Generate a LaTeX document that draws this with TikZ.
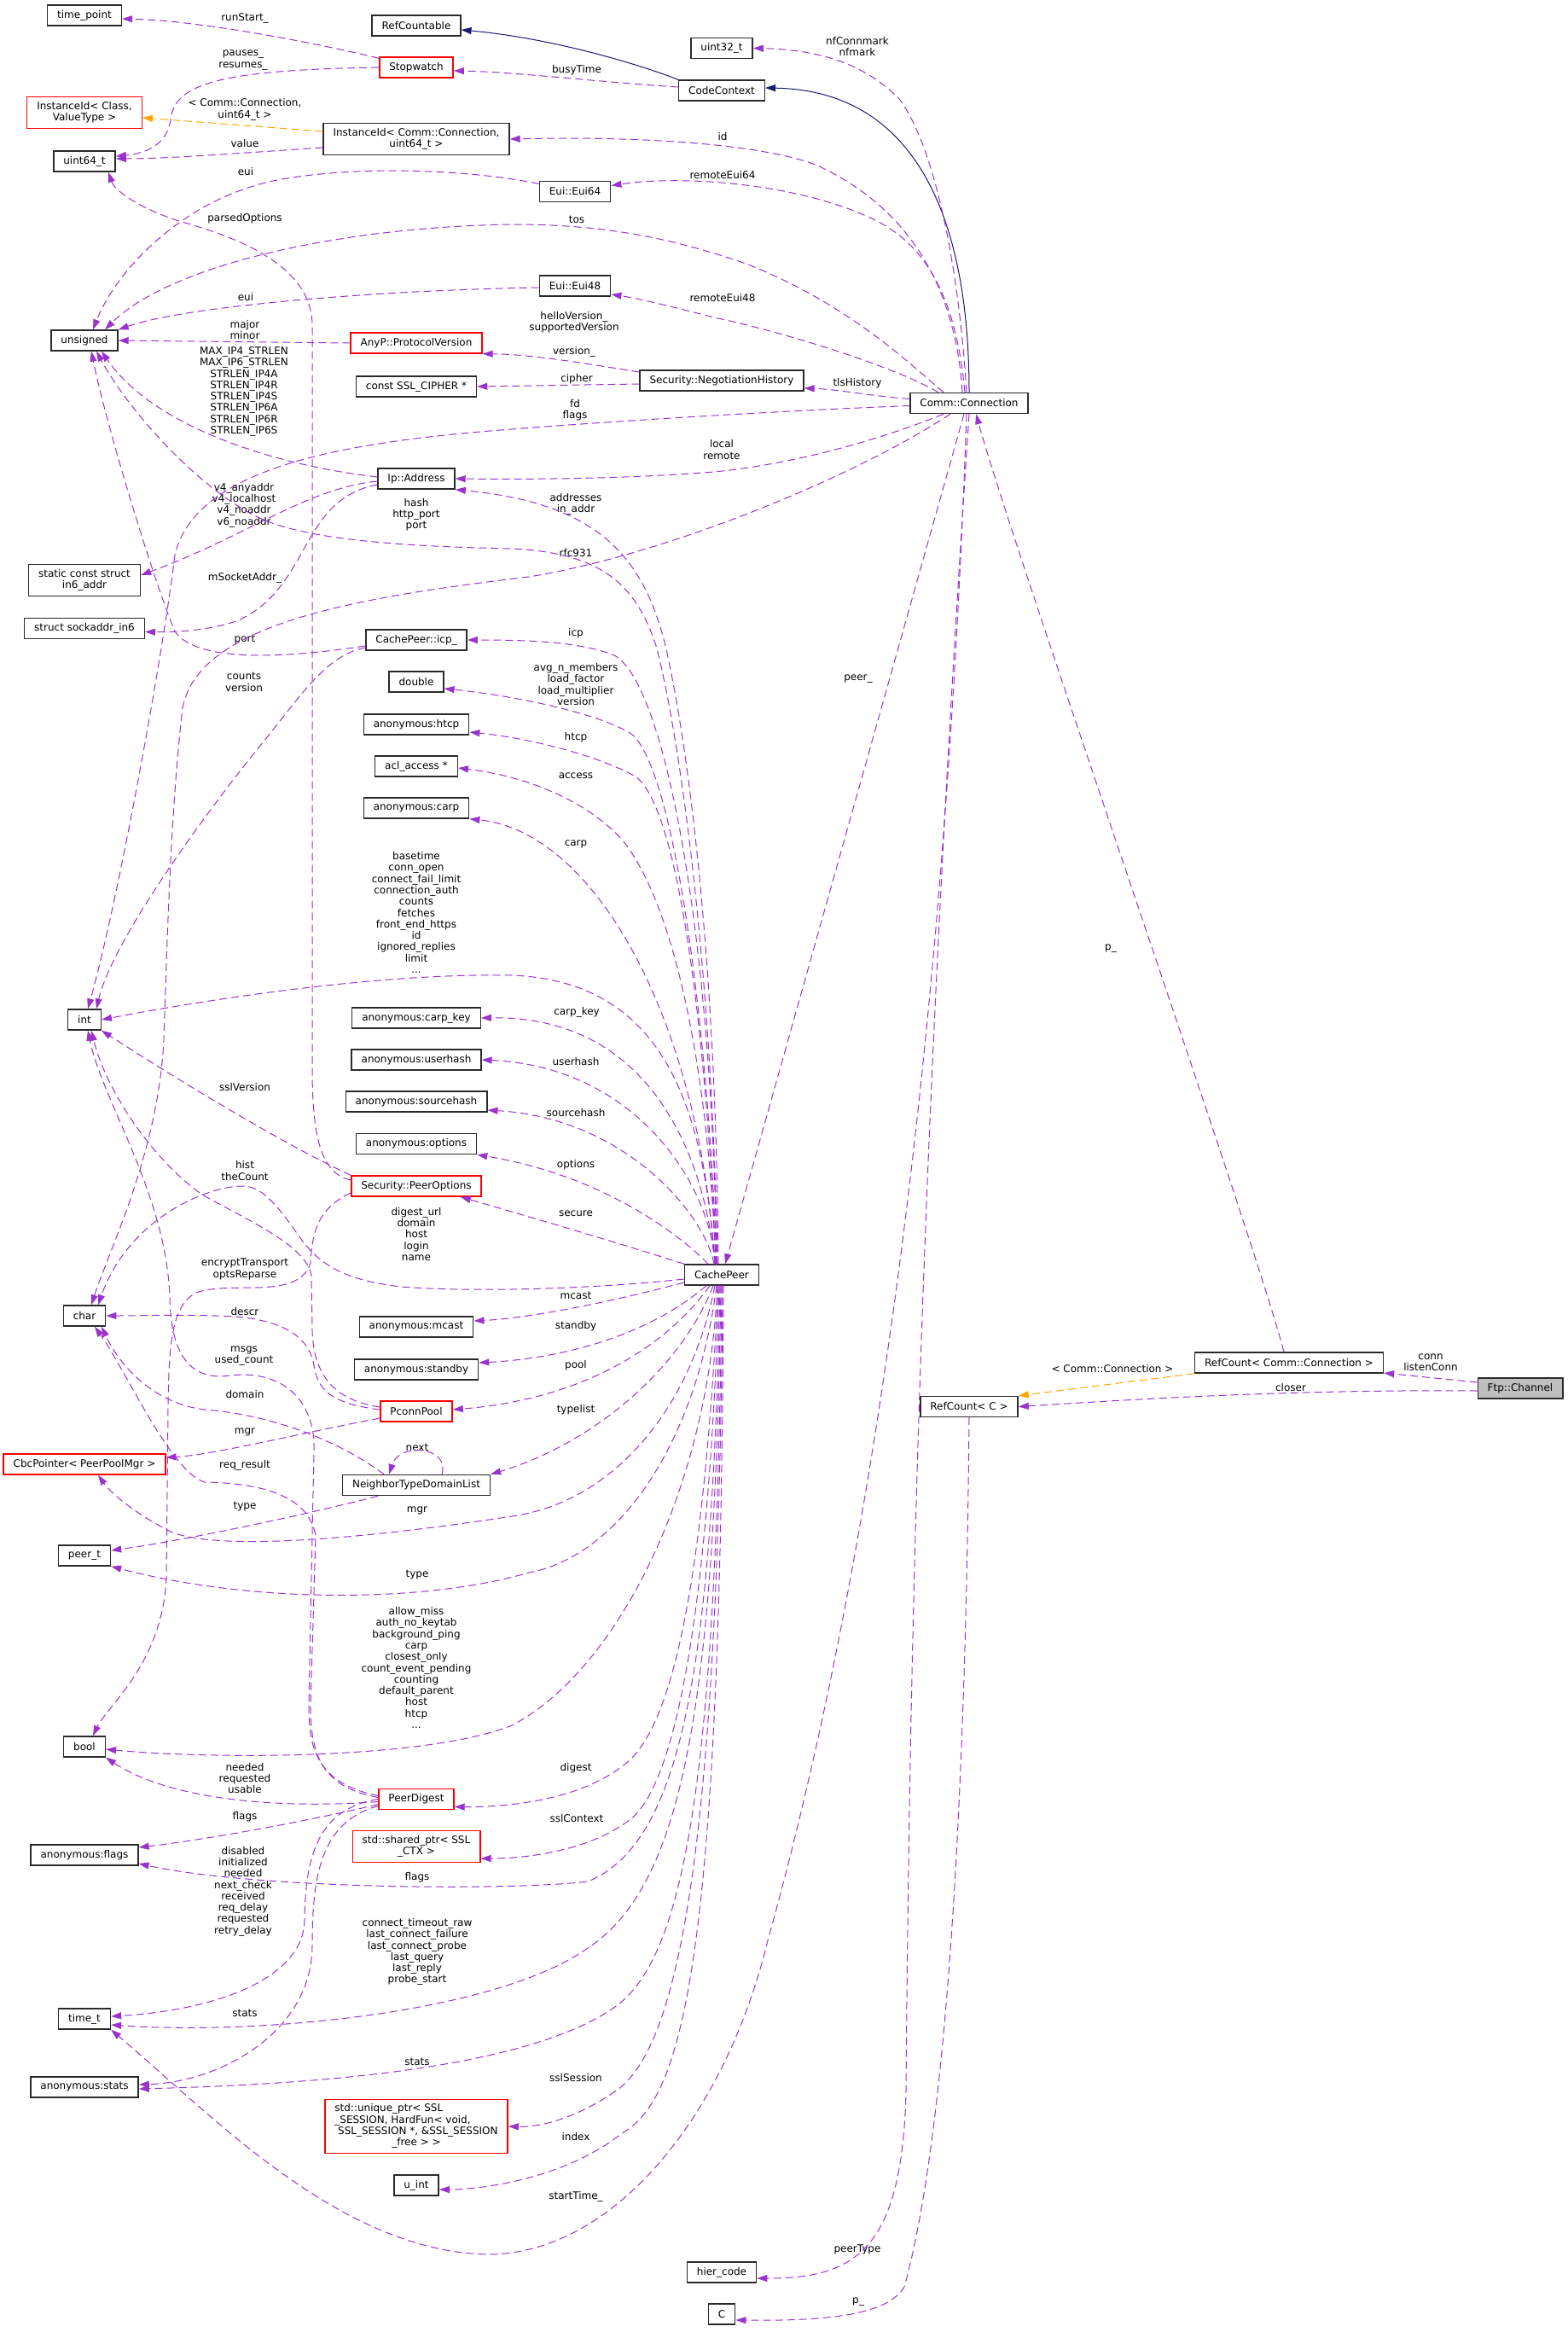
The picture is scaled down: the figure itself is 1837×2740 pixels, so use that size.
\documentclass[tikz,border=0pt]{standalone}
\usepackage{fontspec}
\setmainfont{DejaVu Sans}
\usetikzlibrary{arrows.meta}
\definecolor{usec}{HTML}{9A32CD}
\definecolor{tplc}{HTML}{FFA500}
\definecolor{inhc}{HTML}{191970}
\definecolor{boxk}{HTML}{2A2A2A}
\definecolor{boxr}{HTML}{FF0000}
\definecolor{mainc}{HTML}{BFBFBF}
\newcommand{\dxfont}{\fontsize{12}{13.3}\selectfont}
\newcommand{\klass}[5][]{%
  \node[box, draw=#4, #1] (#2) at #3 {#5};
}
\tikzset{
  box/.style={rectangle, line width=1.4pt, fill=white, inner xsep=11.5pt,
              inner ysep=3pt, minimum height=24pt, align=center},
  lbl/.style={inner sep=1pt, align=center},
  member/.style={usec, line width=1pt, dash pattern=on 9pt off 5pt,
                 -{Triangle[length=12pt,width=8pt]}},
  tmpl/.style={tplc, line width=1pt, dash pattern=on 9pt off 5pt,
               -{Triangle[length=12pt,width=8pt]}},
  inherit/.style={inhc, line width=1pt, -{Triangle[length=12pt,width=8pt]}},
}

\begin{document}
\begin{tikzpicture}[x=1pt, y=-1pt, font=\dxfont]
    \path[use as bounding box, fill=white] (0,0) rectangle (1837,2740);
    % left column
    \klass{timepoint}{(99,18)}{boxk}{time\_point}
    \klass[minimum height=37pt]{instCls}{(99,132)}{boxr}{InstanceId< Class,\\ValueType >}
    \klass{uintsf}{(99,189)}{boxk}{uint64\_t}
    \klass{unsgn}{(99,399)}{boxk}{unsigned}
    \klass[minimum height=37pt]{inaddr}{(99,680)}{boxk}{static const struct\\in6\_addr}
    \klass{sockin}{(99,736.5)}{boxk}{struct sockaddr\_in6}
    \klass{int}{(99,1195)}{boxk}{int}
    \klass{char}{(99,1542)}{boxk}{char}
    \klass{cbc}{(99,1716)}{boxr}{CbcPointer< PeerPoolMgr >}
    \klass{peert}{(99,1823)}{boxk}{peer\_t}
    \klass{bool}{(99,2047)}{boxk}{bool}
    \klass{aflags}{(99,2174)}{boxk}{anonymous:flags}
    \klass{timet}{(99,2366)}{boxk}{time\_t}
    \klass{astats}{(99,2446)}{boxk}{anonymous:stats}
    % second column
    \klass{refCountable}{(488,30)}{boxk}{RefCountable}
    \klass{stopwatch}{(488,79)}{boxr}{Stopwatch}
    \klass[minimum height=37pt]{instConn}{(488,163)}{boxk}{InstanceId< Comm::Connection,\\uint64\_t >}
    \klass{protoVer}{(488,402)}{boxr}{AnyP::ProtocolVersion}
    \klass{sslCipher}{(488,453)}{boxk}{const SSL\_CIPHER *}
    \klass{ipAddr}{(488,561)}{boxk}{Ip::Address}
    \klass{icp}{(488,750)}{boxk}{CachePeer::icp\_}
    \klass{double}{(488,799)}{boxk}{double}
    \klass{anonHtcp}{(488,849)}{boxk}{anonymous:htcp}
    \klass{aclAccess}{(488,898)}{boxk}{acl\_access *}
    \klass{anonCarp}{(488,947)}{boxk}{anonymous:carp}
    \klass{carpKey}{(488,1193)}{boxk}{anonymous:carp\_key}
    \klass{userhash}{(488,1242)}{boxk}{anonymous:userhash}
    \klass{sourcehash}{(488,1291)}{boxk}{anonymous:sourcehash}
    \klass{options}{(488,1340.5)}{boxk}{anonymous:options}
    \klass{peerOpts}{(488,1390)}{boxr}{Security::PeerOptions}
    \klass{mcast}{(488,1555)}{boxk}{anonymous:mcast}
    \klass{standby}{(488,1605)}{boxk}{anonymous:standby}
    \klass{pconn}{(488,1654)}{boxr}{PconnPool}
    \klass{ntdl}{(488,1740.5)}{boxk}{NeighborTypeDomainList}
    \klass{peerDigest}{(488,2108.5)}{boxr}{PeerDigest}
    \klass[minimum height=37pt]{sharedPtr}{(488,2164)}{boxr}{%
      \begin{tabular}{@{}l@{}}std::shared\_ptr< SSL\\\multicolumn{1}{@{}c@{}}{\_CTX >}\end{tabular}}
    \klass[minimum height=63pt]{uniquePtr}{(488,2492)}{boxr}{%
      \begin{tabular}{@{}l@{}}std::unique\_ptr< SSL\\\_SESSION, HardFun< void,\\\ SSL\_SESSION *, \&SSL\_SESSION\\\multicolumn{1}{@{}c@{}}{\_free > >}\end{tabular}}
    \klass{uint}{(488,2561)}{boxk}{u\_int}
    % right side
    \klass{eui64}{(674,224.5)}{boxk}{Eui::Eui64}
    \klass{eui48}{(674,335)}{boxk}{Eui::Eui48}
    \klass{uint32}{(846,56.5)}{boxk}{uint32\_t}
    \klass{codeCtx}{(846,106)}{boxk}{CodeContext}
    \klass{negHist}{(846,446)}{boxk}{Security::NegotiationHistory}
    \klass{cachePeer}{(846,1494)}{boxk}{CachePeer}
    \klass{hier}{(846,2663)}{boxk}{hier\_code}
    \klass{cc}{(846,2712)}{boxk}{C}
    \klass{conn}{(1136,472.5)}{boxk}{Comm::Connection}
    \klass{refC}{(1136,1648.5)}{boxk}{RefCount< C >}
    \klass{refCC}{(1511,1597)}{boxk}{RefCount< Comm::Connection >}
    \klass[fill=mainc]{ftp}{(1782,1627)}{boxk}{Ftp::Channel}

    % edge labels
    \node[lbl] (lRunStart) at (287,21) {runStart\_};
    \node[lbl] (lPauses) at (285,70.5) {pauses\_\\resumes\_};
    \node[lbl] (lInstArg) at (287,128.5) {< Comm::Connection,\\uint64\_t >};
    \node[lbl] (lValue) at (287,168) {value};
    \node[lbl] (lEuiA) at (288,201) {eui};
    \node[lbl] (lParsed) at (287,256) {parsedOptions};
    \node[lbl] (lEuiB) at (288,348) {eui};
    \node[lbl] (lMajor) at (287,386.5) {major\\minor};
    \node[lbl] (lMax) at (286,459) {MAX\_IP4\_STRLEN\\MAX\_IP6\_STRLEN\\STRLEN\_IP4A\\STRLEN\_IP4R\\STRLEN\_IP4S\\STRLEN\_IP6A\\STRLEN\_IP6R\\STRLEN\_IP6S};
    \node[lbl] (lV4) at (286,592) {v4\_anyaddr\\v4\_localhost\\v4\_noaddr\\v6\_noaddr};
    \node[lbl] (lHash) at (488,603) {hash\\http\_port\\port};
    \node[lbl] (lSockAddr) at (287,677) {mSocketAddr\_};
    \node[lbl] (lPort) at (287,750) {port};
    \node[lbl] (lCounts) at (286,799.5) {counts\\version};
    \node[lbl] (lNfmark) at (1005,54.5) {nfConnmark\\nfmark};
    \node[lbl] (lBusy) at (676,82) {busyTime};
    \node[lbl] (lId) at (847,160) {id};
    \node[lbl] (lREui64) at (847,205) {remoteEui64};
    \node[lbl] (lTos) at (676,257) {tos};
    \node[lbl] (lREui48) at (847,349) {remoteEui48};
    \node[lbl] (lHello) at (673,378) {helloVersion\_\\supportedVersion};
    \node[lbl] (lVersion) at (673,412) {version\_};
    \node[lbl] (lCipher) at (676,444) {cipher};
    \node[lbl] (lFd) at (674,480.5) {fd\\flags};
    \node[lbl] (lTls) at (1005,449) {tlsHistory};
    \node[lbl] (lLocal) at (846,527) {local\\remote};
    \node[lbl] (lAddr) at (675,591) {addresses\\in\_addr};
    \node[lbl] (lRfc) at (675,648) {rfc931};
    \node[lbl] (lIcp) at (675,742) {icp};
    \node[lbl] (lAvg) at (675,802) {avg\_n\_members\\load\_factor\\load\_multiplier\\version};
    \node[lbl] (lPeer) at (1006,796) {peer\_};
    \node[lbl] (lHtcp) at (675,864) {htcp};
    \node[lbl] (lAccess) at (675,909) {access};
    \node[lbl] (lCarp) at (675,989) {carp};
    \node[lbl] (lBase) at (488,1069.5) {basetime\\conn\_open\\connect\_fail\_limit\\connection\_auth\\counts\\fetches\\front\_end\_https\\id\\ignored\_replies\\limit\\...};
    \node[lbl] (lCarpKey) at (676,1186) {carp\_key};
    \node[lbl] (lRefP) at (1302,1112) {p\_};
    \node[lbl] (lUserhash) at (675,1244) {userhash};
    \node[lbl] (lSourcehash) at (675,1304) {sourcehash};
    \node[lbl] (lOptions) at (675,1365) {options};
    \node[lbl] (lSslVer) at (287,1274) {sslVersion};
    \node[lbl] (lHist) at (287,1372) {hist\\theCount};
    \node[lbl] (lSecure) at (675,1422) {secure};
    \node[lbl] (lDigestUrl) at (488,1446.5) {digest\_url\\domain\\host\\login\\name};
    \node[lbl] (lEncrypt) at (287,1487.5) {encryptTransport\\optsReparse};
    \node[lbl] (lMcast) at (675,1518) {mcast};
    \node[lbl] (lDescr) at (287,1537) {descr};
    \node[lbl] (lStandby) at (675,1554) {standby};
    \node[lbl] (lMsgs) at (286,1589) {msgs\\used\_count};
    \node[lbl] (lPool) at (675,1600) {pool};
    \node[lbl] (lDomain) at (287,1634) {domain};
    \node[lbl] (lTypelist) at (675,1652) {typelist};
    \node[lbl] (lMgrA) at (287,1678) {mgr};
    \node[lbl] (lNext) at (489,1696) {next};
    \node[lbl] (lReq) at (287,1717) {req\_result};
    \node[lbl] (lTypeA) at (287,1766) {type};
    \node[lbl] (lMgrB) at (489,1770) {mgr};
    \node[lbl] (lTypeB) at (489,1846) {type};
    \node[lbl] (lAllow) at (488,1954.5) {allow\_miss\\auth\_no\_keytab\\background\_ping\\carp\\closest\_only\\count\_event\_pending\\counting\\default\_parent\\host\\htcp\\...};
    \node[lbl] (lNeeded) at (287,2084) {needed\\requested\\usable};
    \node[lbl] (lDigest) at (675,2072) {digest};
    \node[lbl] (lFlagsA) at (287,2129) {flags};
    \node[lbl] (lSslCtx) at (676,2131) {sslContext};
    \node[lbl] (lDisabled) at (285,2216.5) {disabled\\initialized\\needed\\next\_check\\received\\req\_delay\\requested\\retry\_delay};
    \node[lbl] (lFlagsB) at (489,2200) {flags};
    \node[lbl] (lConnTo) at (489,2287.5) {connect\_timeout\_raw\\last\_connect\_failure\\last\_connect\_probe\\last\_query\\last\_reply\\probe\_start};
    \node[lbl] (lStatsA) at (287,2359) {stats};
    \node[lbl] (lStatsB) at (489,2416) {stats};
    \node[lbl] (lSslSess) at (675,2435) {sslSession};
    \node[lbl] (lIndex) at (675,2504) {index};
    \node[lbl] (lStart) at (675,2574) {startTime\_};
    \node[lbl] (lPeerType) at (1005,2636) {peerType};
    \node[lbl] (lCp) at (1006,2698) {p\_};
    \node[lbl] (lRefArg) at (1304,1604) {< Comm::Connection >};
    \node[lbl] (lConn) at (1677,1597) {conn\\listenConn};
    \node[lbl] (lCloser) at (1513,1626) {closer};

    % inheritance and templates
    \draw[inherit] (codeCtx.north west) .. controls (740,72) and (640,44) .. ([yshift=-5pt]refCountable.east);
    \draw[inherit] (conn.north) .. controls (1136,250) and (1070,106) .. ([yshift=3pt]codeCtx.east);
    \draw[tmpl] ([yshift=9pt]instConn.west) -- ([yshift=-6pt]instCls.east);
    \draw[tmpl] (refCC.south west) -- (refC.north east);

    % top area
    \draw[member] ([yshift=-2pt]stopwatch.north west) .. controls (360,48) and (230,24) .. ([yshift=-4pt]timepoint.east);
    \draw[member] (stopwatch.west) .. controls (250,82) and (205,100) .. (200,140) .. controls (196,170) and (170,180) .. ([yshift=6pt]uintsf.east);
    \draw[member] ([yshift=4pt]codeCtx.west) .. controls (700,96) and (600,84) .. ([yshift=-4pt]stopwatch.east);
    \draw[member] ([yshift=-10pt]instConn.west) .. controls (300,178) and (200,186) .. ([yshift=3pt]uintsf.east);
    \draw[member] ([yshift=9pt]eui64.west) .. controls (560,200) and (420,192) .. (320,212) .. controls (210,236) and (135,320) .. ([xshift=10pt]unsgn.north);
    \draw[member] ([yshift=-2pt]eui48.west) .. controls (450,340) and (220,358) .. (unsgn.north east);
    \draw[member] ([xshift=-30pt]conn.north) .. controls (1060,420) and (990,355) .. (877,310) .. controls (780,276) and (700,263) .. (600,263) .. controls (400,266) and (200,310) .. ([xshift=24pt]unsgn.north);
    \draw[member] ([xshift=-36pt]conn.north) .. controls (1040,425) and (900,385) .. (837,372) .. controls (790,360) and (750,350) .. ([yshift=-10pt]eui48.east);
    \draw[member] ([xshift=-8pt]conn.north) .. controls (1120,330) and (1060,240) .. (956,193) .. controls (880,165) and (720,160) .. (instConn.east);
    \draw[member] ([xshift=-5pt]conn.north) .. controls (1120,340) and (1080,280) .. (1015,253) .. controls (930,215) and (800,205) .. ([yshift=7pt]eui64.east);
    \draw[member] ([xshift=-3pt]conn.north) .. controls (1125,330) and (1100,180) .. (1055,117) .. controls (1010,70) and (950,58) .. (uint32.east);
    \draw[member] ([yshift=5pt]conn.west) .. controls (1020,464) and (980,456) .. ([yshift=-9pt]negHist.east);
    \draw[member] ([yshift=10pt]negHist.west) .. controls (680,425) and (620,415) .. (protoVer.south east);
    \draw[member] ([yshift=-4pt]negHist.west) -- (sslCipher.east);
    \draw[member] (protoVer.west) -- (unsgn.east);

    % Comm::Connection
    \draw[member] ([xshift=-30pt]conn.south) .. controls (1020,520) and (920,545) .. (837,553) .. controls (740,561) and (620,562) .. (ipAddr.east);
    \draw[member] ([yshift=-3pt]conn.west) .. controls (900,482) and (700,495) .. (600,503) .. controls (400,518) and (230,548) .. (205,650) .. controls (192,760) and (140,1050) .. ([xshift=4pt]int.north);
    \draw[member] ([xshift=-22pt]conn.south) .. controls (1000,560) and (780,650) .. (620,676) .. controls (420,700) and (232,730) .. (214,830) .. controls (200,950) and (196,1100) .. (192,1220) .. controls (185,1350) and (130,1460) .. ([xshift=8pt]char.north);
    \draw[member] ([xshift=-6pt]conn.south) -- ([xshift=4pt]cachePeer.north);
    \draw[member] ([xshift=-3pt]conn.south) .. controls (1115,1000) and (1060,1700) .. (900,2274) .. controls (850,2480) and (720,2640) .. (574,2642) .. controls (400,2640) and (250,2480) .. (timet.south east);
    \draw[member] (conn.south) .. controls (1075,1400) and (1066,2000) .. (1062,2450) .. controls (1058,2640) and (1000,2670) .. ([yshift=-7pt]hier.east);
    \draw[member] (refC.south) .. controls (1132,2100) and (1110,2500) .. (1060,2680) .. controls (1040,2715) and (960,2720) .. ([yshift=-7pt]cc.east);
    \draw[member] ([xshift=-6pt]refCC.north) .. controls (1470,1450) and (1190,650) .. ([xshift=8pt]conn.south);
    \draw[member] ([yshift=7pt]ftp.west) -- ([yshift=-12pt]refCC.east);
    \draw[member] ([yshift=-3pt]ftp.west) .. controls (1500,1628) and (1300,1642) .. (refC.east);

    % Ip::Address and icp_
    \draw[member] ([yshift=2pt]ipAddr.west) .. controls (320,545) and (180,500) .. ([xshift=20pt]unsgn.south);
    \draw[member] ([yshift=-3pt]ipAddr.west) .. controls (360,572) and (290,628) .. ([yshift=6pt]inaddr.east);
    \draw[member] ([yshift=-7pt]ipAddr.west) .. controls (350,585) and (365,690) .. (277,728) .. controls (240,740) and (200,741) .. ([yshift=-4pt]sockin.east);
    \draw[member] ([yshift=-7pt]icp.west) .. controls (330,772) and (230,776) .. (205,740) .. controls (180,680) and (125,500) .. ([xshift=8pt]unsgn.south);
    \draw[member] ([yshift=-9pt]icp.west) .. controls (380,768) and (350,820) .. (300,880) .. controls (220,980) and (130,1110) .. ([xshift=14pt]int.north);

    % CachePeer, upper fan
    \draw[member] ([xshift=-4pt]cachePeer.north) .. controls (840,1150) and (810,900) .. (785,780) .. controls (760,650) and (700,590) .. (ipAddr.south east);
    \draw[member] ([xshift=-5pt]cachePeer.north) .. controls (835,1150) and (800,880) .. (770,760) .. controls (745,680) and (700,648) .. (600,643) .. controls (450,640) and (350,630) .. (300,605) .. controls (230,570) and (150,480) .. ([xshift=14pt]unsgn.south);
    \draw[member] ([xshift=-6pt]cachePeer.north) .. controls (835,1100) and (780,800) .. (720,768) .. controls (680,752) and (620,750) .. (icp.east);
    \draw[member] ([xshift=-6pt]cachePeer.north) .. controls (830,1200) and (790,900) .. (740,860) .. controls (700,835) and (600,815) .. ([yshift=-8pt]double.east);
    \draw[member] ([xshift=-7pt]cachePeer.north) .. controls (830,1250) and (800,950) .. (745,910) .. controls (700,885) and (620,865) .. ([yshift=-9pt]anonHtcp.east);
    \draw[member] ([xshift=-7pt]cachePeer.north) .. controls (830,1250) and (790,1060) .. (730,985) .. controls (690,940) and (620,910) .. ([yshift=-2pt]aclAccess.east);
    \draw[member] ([xshift=-8pt]cachePeer.north) .. controls (820,1200) and (700,975) .. (anonCarp.south east);
    \draw[member] ([xshift=-8pt]cachePeer.north) .. controls (825,1300) and (780,1150) .. (600,1143) .. controls (450,1140) and (250,1170) .. (int.east);
    \draw[member] ([xshift=-8pt]cachePeer.north) .. controls (825,1350) and (760,1190) .. (carpKey.east);
    \draw[member] ([xshift=-7pt]cachePeer.north) .. controls (830,1380) and (740,1250) .. (userhash.east);
    \draw[member] ([xshift=-9pt]cachePeer.north) .. controls (825,1420) and (730,1310) .. ([yshift=-10pt]sourcehash.east);
    \draw[member] ([xshift=-16pt]cachePeer.north) .. controls (810,1460) and (720,1380) .. (options.south east);
    \draw[member] (cachePeer.north west) .. controls (720,1455) and (600,1420) .. ([xshift=-25pt]peerOpts.south east);
    \draw[member] ([yshift=-5pt]cachePeer.west) .. controls (700,1510) and (560,1515) .. (470,1508) .. controls (400,1500) and (375,1480) .. (355,1455) .. controls (330,1420) and (310,1390) .. (285,1390) .. controls (240,1390) and (150,1430) .. ([xshift=16pt]char.north);

    % CachePeer, lower fan
    \draw[member] ([yshift=-9pt]cachePeer.west) .. controls (720,1525) and (620,1545) .. ([yshift=7pt]mcast.east);
    \draw[member] ([xshift=-18pt]cachePeer.south) .. controls (760,1565) and (660,1592) .. ([yshift=8pt]standby.east);
    \draw[member] ([xshift=-14pt]cachePeer.south) .. controls (780,1580) and (680,1640) .. ([yshift=2pt]pconn.east);
    \draw[member] ([xshift=-10pt]cachePeer.south) .. controls (800,1600) and (700,1690) .. (ntdl.north east);
    \draw[member] ([xshift=-8pt]cachePeer.south) .. controls (810,1650) and (720,1760) .. (600,1777) .. controls (450,1800) and (260,1820) .. (200,1795) .. controls (160,1775) and (130,1750) .. ([xshift=16pt]cbc.south);
    \draw[member] ([xshift=-6pt]cachePeer.south) .. controls (815,1700) and (720,1825) .. (620,1843) .. controls (500,1878) and (300,1880) .. (peert.south east);
    \draw[member] ([xshift=-5pt]cachePeer.south) .. controls (830,1750) and (720,1960) .. (600,2022) .. controls (500,2062) and (250,2062) .. ([yshift=-3pt]bool.east);
    \draw[member] ([xshift=-4pt]cachePeer.south) .. controls (825,1850) and (790,2010) .. (740,2061) .. controls (690,2108) and (600,2118) .. ([yshift=-9pt]peerDigest.east);
    \draw[member] ([xshift=-3pt]cachePeer.south) .. controls (830,1900) and (790,2100) .. (735,2135) .. controls (690,2168) and (620,2178) .. ([yshift=-14pt]sharedPtr.east);
    \draw[member] ([xshift=-2pt]cachePeer.south) .. controls (835,1950) and (800,2160) .. (689,2205) .. controls (600,2216) and (300,2214) .. ([yshift=-10pt]aflags.east);
    \draw[member] ([xshift=-1pt]cachePeer.south) .. controls (838,2000) and (800,2210) .. (689,2283) .. controls (580,2360) and (300,2385) .. ([yshift=-7pt]timet.east);
    \draw[member] (cachePeer.south) .. controls (840,2100) and (800,2300) .. (718,2354) .. controls (620,2420) and (400,2442) .. ([yshift=-2pt]astats.east);
    \draw[member] ([xshift=1pt]cachePeer.south) .. controls (842,2200) and (790,2410) .. (718,2453) .. controls (670,2485) and (630,2493) .. (uniquePtr.east);
    \draw[member] ([xshift=2pt]cachePeer.south) .. controls (845,2300) and (800,2460) .. (729,2500) .. controls (660,2555) and (560,2566) .. ([yshift=-5pt]uint.east);

    % Security::PeerOptions
    \draw[member] (peerOpts.north west) .. controls (330,1340) and (200,1260) .. (int.south east);
    \draw[member] ([yshift=7pt]peerOpts.west) .. controls (375,1375) and (366,1330) .. (366,1250) -- (366,380) .. controls (365,320) and (300,285) .. (220,262) .. controls (170,248) and (135,225) .. ([xshift=28pt]uintsf.south);
    \draw[member] ([yshift=-8pt]peerOpts.west) .. controls (375,1415) and (366,1440) .. (364,1480) .. controls (350,1525) and (270,1500) .. (230,1515) .. controls (200,1530) and (198,1580) .. (197,1650) -- (195,1850) .. controls (190,1950) and (125,2000) .. ([xshift=10pt]bool.north);

    % PconnPool and NeighborTypeDomainList
    \draw[member] ([yshift=5pt]pconn.west) .. controls (400,1642) and (368,1620) .. (366,1560) -- (365,1495) .. controls (360,1460) and (290,1430) .. (237,1400) .. controls (180,1360) and (125,1280) .. ([xshift=8pt]int.south);
    \draw[member] ([yshift=2pt]pconn.west) .. controls (390,1645) and (372,1630) .. (368,1600) .. controls (362,1565) and (330,1548) .. (277,1543) .. controls (220,1540) and (160,1542) .. (char.east);
    \draw[member] ([yshift=-8pt]pconn.west) .. controls (350,1680) and (250,1705) .. ([yshift=8pt]cbc.east);
    \draw[member] ([xshift=-38pt]ntdl.north) .. controls (400,1690) and (320,1658) .. (240,1652) .. controls (180,1645) and (140,1600) .. ([xshift=20pt]char.south);
    \draw[member] ([xshift=30pt]ntdl.north) .. controls (528,1695) and (468,1690) .. ([xshift=-32pt]ntdl.north);
    \draw[member] ([xshift=-45pt]ntdl.south) .. controls (380,1770) and (220,1805) .. ([yshift=6pt]peert.east);

    % PeerDigest
    \draw[member] ([yshift=2pt]peerDigest.west) .. controls (380,2095) and (364,2060) .. (364,2000) -- (370,1800) .. controls (362,1750) and (300,1738) .. (240,1737) .. controls (200,1725) and (150,1610) .. ([xshift=12pt]char.south);
    \draw[member] ([yshift=4pt]peerDigest.west) .. controls (372,2090) and (362,2050) .. (362,2000) -- (368,1700) .. controls (370,1640) and (330,1605) .. (270,1612) .. controls (215,1620) and (200,1575) .. (199,1520) .. controls (195,1400) and (120,1290) .. ([xshift=4pt]int.south);
    \draw[member] ([yshift=-3pt]peerDigest.west) .. controls (330,2120) and (200,2110) .. (bool.south east);
    \draw[member] ([yshift=-6pt]peerDigest.west) .. controls (380,2130) and (250,2155) .. ([yshift=9pt]aflags.east);
    \draw[member] (peerDigest.west) .. controls (370,2120) and (358,2180) .. (357,2250) .. controls (356,2320) and (250,2356) .. ([yshift=3pt]timet.east);
    \draw[member] ([yshift=-8pt]peerDigest.west) .. controls (375,2135) and (366,2200) .. (366,2280) .. controls (366,2380) and (260,2440) .. ([yshift=3pt]astats.east);
\end{tikzpicture}
\end{document}
